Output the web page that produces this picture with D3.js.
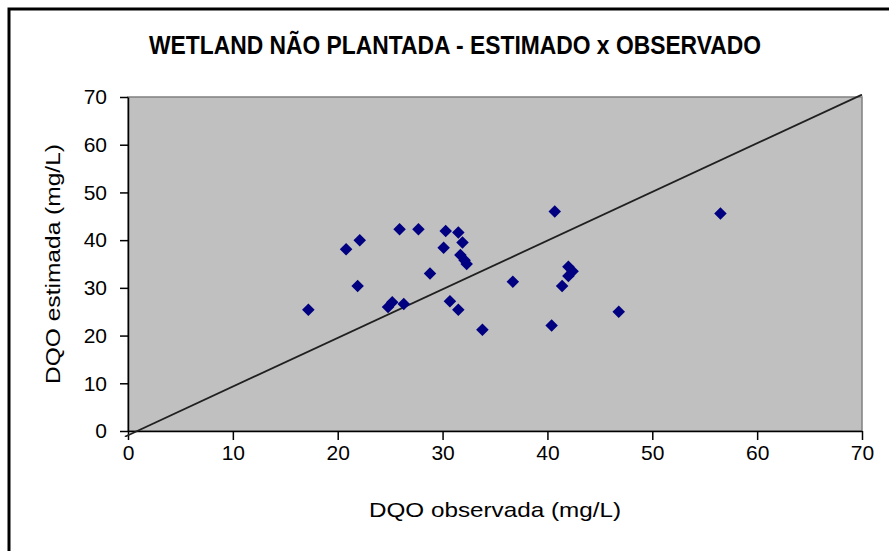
<!DOCTYPE html>
<html>
<head>
<meta charset="utf-8">
<script src="https://cdn.jsdelivr.net/npm/d3@7"></script>
<style>
  html, body { margin: 0; padding: 0; background: #fff; }
  svg { display: block; }
</style>
</head>
<body>
<svg id="chart" width="889" height="551"></svg>
<script>
// DQO observada (mg/L)
const observed = [17.2, 20.8, 22.1, 21.9, 24.8, 25.2, 26.3, 25.9, 27.7, 30.3, 31.5,
                  31.9, 30.1, 31.7, 32.1, 32.3, 28.8, 30.7, 31.5, 33.8, 36.7,
                  40.7, 56.5, 40.4, 46.8, 42.0, 42.4, 42.0, 41.4];
// DQO estimada (mg/L)
const estimated = [25.4, 38.1, 40.0, 30.4, 26.0, 27.0, 26.6, 42.3, 42.3, 41.9, 41.6,
                   39.5, 38.4, 36.9, 35.8, 35.0, 33.0, 27.2, 25.4, 21.2, 31.3,
                   46.0, 45.6, 22.1, 25.0, 34.4, 33.5, 32.5, 30.4];
// 1:1 reference line end points
const refX = [-0.3, 70];
const refY = [-1.2, 70.5];

const xTicks = [0, 10, 20, 30, 40, 50, 60, 70];
const yTicks = [0, 10, 20, 30, 40, 50, 60, 70];

const titleText = "WETLAND NÃO PLANTADA - ESTIMADO x OBSERVADO";
const xTitle = "DQO observada (mg/L)";
const yTitle = "DQO estimada (mg/L)";

const svg = d3.select("#chart");
const plot = { left: 128, top: 97, right: 862, bottom: 431 };
const font = "'Liberation Sans', Arial, sans-serif";

// outer chart frame
svg.append("rect")
  .attr("x", 9).attr("y", 9)
  .attr("width", 900).attr("height", 560)
  .attr("fill", "#fff")
  .attr("stroke", "#000").attr("stroke-width", 3);

const x = d3.scaleLinear().domain([0, 70]).range([plot.left, plot.right]);
const y = d3.scaleLinear().domain([0, 70]).range([plot.bottom, plot.top]);

// plot area
svg.append("rect")
  .attr("x", plot.left).attr("y", plot.top)
  .attr("width", plot.right - plot.left).attr("height", plot.bottom - plot.top)
  .attr("fill", "#c0c0c0")
  .attr("stroke", "#808080").attr("stroke-width", 1.5);

// title (condensed bold)
svg.append("text")
  .attr("x", 455).attr("y", 54)
  .attr("text-anchor", "middle")
  .attr("font-family", font)
  .attr("font-weight", "bold")
  .attr("font-size", 25)
  .attr("textLength", 612)
  .attr("lengthAdjust", "spacingAndGlyphs")
  .attr("fill", "#000")
  .text(titleText);

// axes
const xAxis = d3.axisBottom(x).tickValues(xTicks).tickSize(9).tickSizeOuter(0).tickPadding(5);
const yAxis = d3.axisLeft(y).tickValues(yTicks).tickSize(8).tickSizeOuter(0).tickPadding(13);

const gx = svg.append("g").attr("transform", `translate(0,${plot.bottom})`).call(xAxis);
const gy = svg.append("g").attr("transform", `translate(${plot.left},0)`).call(yAxis);

[gx, gy].forEach(g => {
  g.select(".domain").attr("stroke", "#000").attr("stroke-width", 1.5);
  g.selectAll(".tick line").attr("stroke", "#000").attr("stroke-width", 1.5);
  g.selectAll(".tick text")
    .attr("font-family", font)
    .attr("font-size", 21)
    .attr("fill", "#000");
});

// reference line
const clipId = "plotClip";
svg.append("clipPath").attr("id", clipId)
  .append("rect")
  .attr("x", plot.left - 4).attr("y", plot.top - 3)
  .attr("width", plot.right - plot.left + 5).attr("height", plot.bottom - plot.top + 9);

const refPts = refX.map((v, i) => [v, refY[i]]);
svg.append("path")
  .attr("clip-path", `url(#${clipId})`)
  .attr("d", d3.line().x(d => x(d[0])).y(d => y(d[1]))(refPts))
  .attr("stroke", "#202020")
  .attr("stroke-width", 1.8)
  .attr("fill", "none");

// data markers (diamonds)
const diamond = d3.symbol().type(d3.symbolDiamond2).size(100);
svg.append("g")
  .selectAll("path")
  .data(observed.map((v, i) => [v, estimated[i]]))
  .join("path")
  .attr("transform", d => `translate(${x(d[0])},${y(d[1])})`)
  .attr("d", diamond)
  .attr("fill", "#000080");

// axis titles
svg.append("text")
  .attr("x", (plot.left + plot.right) / 2).attr("y", 517)
  .attr("text-anchor", "middle")
  .attr("font-family", font)
  .attr("font-size", 21)
  .attr("textLength", 252)
  .attr("lengthAdjust", "spacingAndGlyphs")
  .attr("fill", "#000")
  .text(xTitle);

svg.append("text")
  .attr("transform", `translate(60,${(plot.top + plot.bottom) / 2}) rotate(-90)`)
  .attr("text-anchor", "middle")
  .attr("font-family", font)
  .attr("font-size", 21)
  .attr("textLength", 240)
  .attr("lengthAdjust", "spacingAndGlyphs")
  .attr("fill", "#000")
  .text(yTitle);
</script>
</body>
</html>
